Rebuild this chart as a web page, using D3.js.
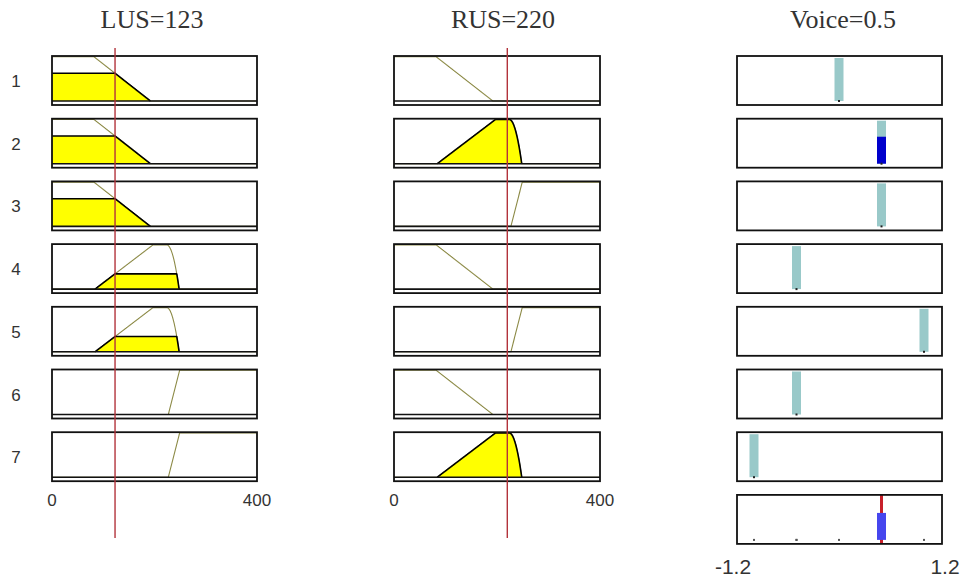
<!DOCTYPE html>
<html>
<head>
<meta charset="utf-8">
<script src="https://cdn.jsdelivr.net/npm/d3@7"></script>
<style>
  html, body { margin: 0; padding: 0; background: #ffffff; }
  svg { display: block; }
</style>
</head>
<body>
<svg id="chart" width="962" height="581"></svg>
<script>
// Fuzzy rule viewer: two inputs (LUS, RUS), one Sugeno output (Voice), seven rules.

const inputNames = ["LUS", "RUS"];
const inputValues = [123, 220];
const inputRange = [0, 400];
const inputTicks = [0, 400];

// Membership functions shared by both inputs: [a, b, c, d] trapezoids.
const mfLow = [0, 0, 82, 192];
const mfMedium = [84, 197, 224, 248];   // right shoulder is rounded
const mfHigh = [227, 249, 400, 400];
const mfSet = [mfLow, mfMedium, mfHigh];
const mfRoundedRight = [false, true, false];

// Rule base: antecedent term per input and constant consequent for Voice.
const ruleLUS = [0, 0, 0, 1, 1, 2, 2];
const ruleRUS = [0, 1, 2, 0, 2, 0, 1];
const ruleVoice = [0, 0.5, 0.5, -0.5, 1, -0.5, -1];
const ruleLabels = ["1", "2", "3", "4", "5", "6", "7"];

const outputName = "Voice";
const outputRange = [-1.2, 1.2];
const outputTicks = ["-1.2", "1.2"];

// ---- membership evaluation ----
function membership(k, x) {
  const [a, b, c, d] = mfSet[k];
  if (x < a || x > d) return 0;
  if (x >= b && x <= c) return 1;
  if (x < b) return b === a ? 1 : (x - a) / (b - a);
  if (d === c) return 1;
  const t = (x - c) / (d - c);
  return mfRoundedRight[k] ? 1 - t * t : 1 - t;
}

const ruleTerms = [ruleLUS, ruleRUS];
const degrees = ruleLUS.map((_, r) => ruleTerms.map((terms, j) => membership(terms[r], inputValues[j])));
const firing = degrees.map(d => Math.min(...d));
const wSum = d3.sum(firing);
const outputValue = wSum > 0 ? d3.sum(firing.map((w, r) => w * ruleVoice[r])) / wSum : 0;

// ---- layout ----
const svg = d3.select("#chart");
const boxH = 49;
const baseOff = 45;      // baseline of the membership axis inside each box
const rowTop = i => 56 + i * 62.7;

const inputPanels = [
  { x0: 52, x1: 257, titleX: 152 },
  { x0: 394, x1: 600, titleX: 503 }
];
const outPanel = { x0: 737, x1: 942, titleX: 843 };

const lineColor = "#8c8a46";
const redLine = "#b2333b";

const sampleXs = d3.range(0, 400.5, 0.5);

inputPanels.forEach((p, j) => {
  const xs = d3.scaleLinear().domain(inputRange).range([p.x0, p.x1]);

  svg.append("text")
    .attr("x", p.titleX).attr("y", 28)
    .attr("text-anchor", "middle")
    .attr("font-family", "Liberation Serif, serif")
    .attr("font-size", 26)
    .attr("fill", "#333")
    .text(`${inputNames[j]}=${inputValues[j]}`);

  ruleLUS.forEach((_, r) => {
    const y0 = rowTop(r);
    const ys = d3.scaleLinear().domain([0, 1]).range([y0 + baseOff, y0 + 0.8]);
    const g = svg.append("g");
    const k = ruleTerms[j][r];
    const deg = degrees[r][j];

    g.append("rect")
      .attr("x", p.x0).attr("y", y0)
      .attr("width", p.x1 - p.x0).attr("height", boxH)
      .attr("fill", "#fff");

    // full membership curve
    const curve = d3.line().x(d => xs(d)).y(d => ys(membership(k, d)));
    g.append("path")
      .attr("d", curve(sampleXs))
      .attr("fill", "none")
      .attr("stroke", lineColor)
      .attr("stroke-width", 1.1);

    // clipped (fired) part
    if (deg > 0) {
      const pts = sampleXs.map(x => [xs(x), ys(Math.min(deg, membership(k, x)))]);
      const area = d3.area().x(d => d[0]).y0(ys(0)).y1(d => d[1]);
      g.append("path")
        .attr("d", area(pts))
        .attr("fill", "#ffff00")
        .attr("stroke", "none");
      const firstIn = pts.findIndex(d => d[1] < ys(0) - 0.01);
      let lastIn = pts.length - 1;
      while (lastIn > 0 && pts[lastIn][1] >= ys(0) - 0.01) lastIn--;
      const outline = pts.slice(Math.max(0, firstIn - 1), Math.min(pts.length, lastIn + 2));
      g.append("path")
        .attr("d", d3.line()(outline))
        .attr("fill", "none")
        .attr("stroke", "#000")
        .attr("stroke-width", 1.6);
    }

    // membership baseline
    g.append("line")
      .attr("x1", p.x0).attr("x2", p.x1)
      .attr("y1", ys(0)).attr("y2", ys(0))
      .attr("stroke", "#111").attr("stroke-width", 1.6);

    g.append("rect")
      .attr("x", p.x0).attr("y", y0)
      .attr("width", p.x1 - p.x0).attr("height", boxH)
      .attr("fill", "none")
      .attr("stroke", "#111")
      .attr("stroke-width", 1.8);
  });

  // tick labels
  inputTicks.forEach(t => {
    svg.append("text")
      .attr("x", xs(t)).attr("y", 506)
      .attr("text-anchor", "middle")
      .attr("font-family", "Liberation Sans, Arial, sans-serif")
      .attr("font-size", 17)
      .attr("fill", "#333")
      .text(t);
  });

  // current input value
  svg.append("line")
    .attr("x1", xs(inputValues[j])).attr("x2", xs(inputValues[j]))
    .attr("y1", 48).attr("y2", 538)
    .attr("stroke", redLine)
    .attr("stroke-width", 1.4);
});

// rule numbers
ruleLabels.forEach((lab, r) => {
  svg.append("text")
    .attr("x", 16).attr("y", rowTop(r) + 31)
    .attr("text-anchor", "middle")
    .attr("font-family", "Liberation Sans, Arial, sans-serif")
    .attr("font-size", 17)
    .attr("fill", "#333")
    .text(lab);
});

// ---- output panel ----
const xo = d3.scaleLinear().domain(outputRange).range([outPanel.x0, outPanel.x1 - 1]);

svg.append("text")
  .attr("x", outPanel.titleX).attr("y", 28)
  .attr("text-anchor", "middle")
  .attr("font-family", "Liberation Serif, serif")
  .attr("font-size", 26)
  .attr("fill", "#333")
  .text(`${outputName}=${d3.format(".2~f")(outputValue)}`);

const barW = 9;
ruleVoice.forEach((v, r) => {
  const y0 = rowTop(r);
  const ys = d3.scaleLinear().domain([0, 1]).range([y0 + baseOff, y0 + 2]);
  const g = svg.append("g");
  g.append("rect")
    .attr("x", outPanel.x0).attr("y", y0)
    .attr("width", outPanel.x1 - outPanel.x0).attr("height", boxH)
    .attr("fill", "#fff");
  g.append("rect")
    .attr("x", xo(v) - barW / 2).attr("y", ys(1))
    .attr("width", barW).attr("height", ys(0) - ys(1))
    .attr("fill", "#99c9c9");
  if (firing[r] > 0) {
    g.append("rect")
      .attr("x", xo(v) - barW / 2).attr("y", ys(firing[r]))
      .attr("width", barW).attr("height", ys(0) - ys(firing[r]))
      .attr("fill", "#0000cc");
  }
  g.append("rect")
    .attr("x", xo(v) - 1).attr("y", ys(0) - 1)
    .attr("width", 2).attr("height", 2)
    .attr("fill", "#222");
  g.append("rect")
    .attr("x", outPanel.x0).attr("y", y0)
    .attr("width", outPanel.x1 - outPanel.x0).attr("height", boxH)
    .attr("fill", "none")
    .attr("stroke", "#111")
    .attr("stroke-width", 1.8);
});

// aggregated output
{
  const y0 = rowTop(7);
  const ys = d3.scaleLinear().domain([0, 1]).range([y0 + baseOff, y0 + 2]);
  const g = svg.append("g");
  g.append("rect")
    .attr("x", outPanel.x0).attr("y", y0)
    .attr("width", outPanel.x1 - outPanel.x0).attr("height", boxH)
    .attr("fill", "#fff");
  ruleVoice.forEach(v => {
    g.append("rect")
      .attr("x", xo(v) - 1).attr("y", ys(0) - 1)
      .attr("width", 2).attr("height", 2)
      .attr("fill", "#555");
  });
  g.append("line")
    .attr("x1", xo(outputValue)).attr("x2", xo(outputValue))
    .attr("y1", y0).attr("y2", y0 + boxH)
    .attr("stroke", "#c8202a")
    .attr("stroke-width", 3);
  ruleVoice.forEach((v, r) => {
    if (firing[r] > 0) {
      g.append("rect")
        .attr("x", xo(v) - 4.5).attr("y", ys(firing[r]))
        .attr("width", 9).attr("height", ys(0) - ys(firing[r]))
        .attr("fill", "#4646ee");
    }
  });
  g.append("rect")
    .attr("x", outPanel.x0).attr("y", y0)
    .attr("width", outPanel.x1 - outPanel.x0).attr("height", boxH)
    .attr("fill", "none")
    .attr("stroke", "#111")
    .attr("stroke-width", 1.8);
}

[outPanel.x0 - 4, outPanel.x1 + 3].forEach((x, i) => {
  svg.append("text")
    .attr("x", x).attr("y", 574)
    .attr("text-anchor", "middle")
    .attr("font-family", "Liberation Sans, Arial, sans-serif")
    .attr("font-size", 21)
    .attr("fill", "#333")
    .text(outputTicks[i]);
});
</script>
</body>
</html>
